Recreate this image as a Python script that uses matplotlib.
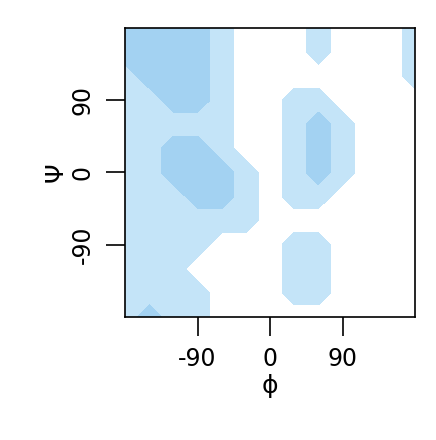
import numpy as np
from matplotlib import pyplot as plt

# grid nodes (degrees)
phi = [-180, -150, -120, -90, -60, -30, 0, 30, 60, 90, 120, 150, 180]
psi = [180, 150, 120, 90, 60, 30, 0, -30, -60, -90, -120, -150, -180]
# density level: 0 = empty, 1 = light, 2 = darker
levels = [
    [2, 2, 2, 2, 1, 0, 0, 0, 1, 0, 0, 0, 1],
    [2, 2, 2, 2, 1, 0, 0, 0, 1, 0, 0, 0, 1],
    [1, 2, 2, 2, 1, 0, 0, 0, 0, 0, 0, 0, 1],
    [1, 1, 2, 2, 1, 0, 0, 1, 1, 0, 0, 0, 0],
    [1, 1, 1, 1, 1, 0, 0, 1, 2, 1, 0, 0, 0],
    [1, 1, 2, 2, 1, 0, 0, 1, 2, 1, 0, 0, 0],
    [1, 1, 2, 2, 2, 1, 0, 1, 2, 1, 0, 0, 0],
    [1, 1, 1, 2, 2, 1, 0, 1, 1, 0, 0, 0, 0],
    [1, 1, 1, 1, 1, 1, 0, 0, 0, 0, 0, 0, 0],
    [1, 1, 1, 1, 0, 0, 0, 1, 1, 0, 0, 0, 0],
    [1, 1, 1, 0, 0, 0, 0, 1, 1, 0, 0, 0, 0],
    [1, 1, 1, 1, 0, 0, 0, 1, 1, 0, 0, 0, 0],
    [1, 2, 1, 1, 0, 0, 0, 0, 0, 0, 0, 0, 0],
]
ticks = [-90, 0, 90]

fig = plt.figure(figsize=(4.36, 4.40), dpi=100)
ax = fig.add_axes([0.287, 0.280, 0.665, 0.656])
ax.contourf(phi, psi, np.array(levels, dtype=float), levels=[0.5, 1.5, 2.5],
            colors=["#c4e4f8", "#a3d2f2"])
ax.set_xlim(-180, 180)
ax.set_ylim(-180, 180)
ax.set_xticks(ticks)
ax.set_yticks(ticks)
ax.set_xticklabels([str(t) for t in ticks], fontsize=17)
ax.set_yticklabels([str(t) for t in ticks], fontsize=17, rotation=90, va="center")
ax.tick_params(length=14, width=1.2, pad=8)
for s in ax.spines.values():
    s.set_linewidth(1.2)
ax.set_xlabel("ϕ", fontsize=18, labelpad=2)
ax.set_ylabel("Ψ", fontsize=18, labelpad=2)
fig.savefig("out.png", dpi=100)
